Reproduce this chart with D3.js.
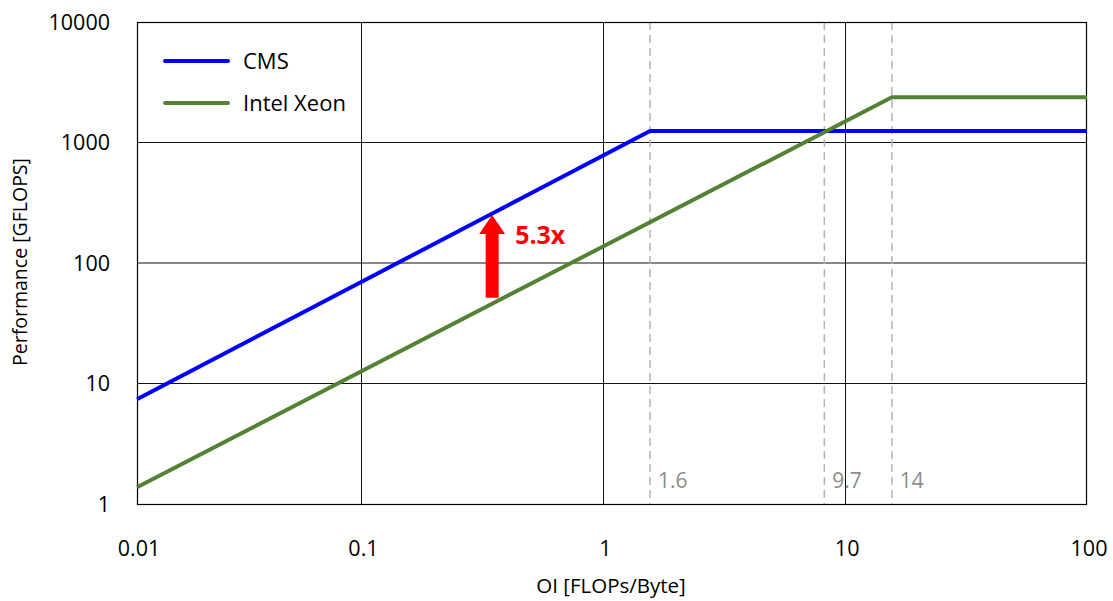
<!DOCTYPE html>
<html>
<head>
<meta charset="utf-8">
<script src="https://cdn.jsdelivr.net/npm/d3@7"></script>
<style>
  body { margin: 0; background: #fff; }
  svg { font-family: "Open Sans", sans-serif; }
</style>
</head>
<body>
<svg id="chart" width="1113" height="601"></svg>
<script>
// Axis ticks (the left edge of the plot sits slightly right of 0.01)
const xTickValues = [0.0118, 0.1, 1, 10, 100];
const xTickLabels = ['0.01', '0.1', '1', '10', '100'];
const yTickValues = [1, 10, 100, 1000, 10000];

// Roofline series: OI [FLOPs/Byte] -> GFLOPS
const cmsOI = [0.0118, 1.56, 100];
const cmsPerf = [7.4, 1245, 1245];
const xeonOI = [0.0118, 15.6, 100];
const xeonPerf = [1.376, 2372, 2372];

// Ridge points (dashed markers)
const ridgeOI = [1.56, 8.2, 15.6];
const ridgeLabels = ['1.6', '9.7', '14'];

// Speed-up arrow
const arrowOI = 0.347;
const arrowFrom = 51.5;
const arrowTo = 250;
const arrowLabel = '5.3x';

const series = [
  { name: 'CMS', oi: cmsOI, perf: cmsPerf, color: '#0000FF' },
  { name: 'Intel Xeon', oi: xeonOI, perf: xeonPerf, color: '#548235' }
];

const svg = d3.select('#chart');
const margin = { top: 22, right: 26, bottom: 97, left: 137 };
const width = +svg.attr('width'), height = +svg.attr('height');

let xScale = d3.scaleLog()
  .domain([xTickValues[0], xTickValues[xTickValues.length - 1]])
  .range([margin.left, width - margin.right]);

let yScale = d3.scaleLog()
  .domain([yTickValues[0], yTickValues[yTickValues.length - 1]])
  .range([height - margin.bottom, margin.top]);

const plotTop = margin.top, plotBottom = height - margin.bottom;

// Grid lines
svg.append('g')
  .selectAll('line')
  .data(xTickValues.slice(1, -1))
  .enter()
  .append('line')
  .attr('x1', d => Math.round(xScale(d)) + 0.5)
  .attr('x2', d => Math.round(xScale(d)) + 0.5)
  .attr('y1', plotTop)
  .attr('y2', plotBottom)
  .attr('stroke', '#111')
  .attr('stroke-width', 1);

svg.append('g')
  .selectAll('line')
  .data(yTickValues.slice(1, -1))
  .enter()
  .append('line')
  .attr('x1', margin.left)
  .attr('x2', width - margin.right)
  .attr('y1', d => yScale(d))
  .attr('y2', d => yScale(d))
  .attr('stroke', '#111')
  .attr('stroke-width', 1);

// Ridge dashed lines + labels
svg.append('g')
  .selectAll('line')
  .data(ridgeOI)
  .enter()
  .append('line')
  .attr('x1', d => xScale(d))
  .attr('x2', d => xScale(d))
  .attr('y1', plotTop)
  .attr('y2', plotBottom)
  .attr('stroke', '#b4b4b4')
  .attr('stroke-width', 1.5)
  .attr('stroke-dasharray', '8,5');

svg.append('g')
  .selectAll('text')
  .data(ridgeOI)
  .enter()
  .append('text')
  .attr('x', d => xScale(d) + 8)
  .attr('y', plotBottom - 16)
  .attr('fill', '#8c8c8c')
  .attr('font-size', 21)
  .text((d, i) => ridgeLabels[i]);

// Plot border
svg.append('rect')
  .attr('x', margin.left + 0.5)
  .attr('y', plotTop + 0.5)
  .attr('width', width - margin.left - margin.right - 1)
  .attr('height', plotBottom - plotTop)
  .attr('fill', 'none')
  .attr('stroke', '#000')
  .attr('stroke-width', 1.2);

// Series lines
const line = d3.line()
  .x(d => xScale(d[0]))
  .y(d => yScale(d[1]));

svg.append('g')
  .selectAll('path')
  .data(series)
  .enter()
  .append('path')
  .attr('d', s => line(s.oi.map((v, i) => [v, s.perf[i]])))
  .attr('fill', 'none')
  .attr('stroke', s => s.color)
  .attr('stroke-width', 4)
  .attr('stroke-linejoin', 'round');

// Arrow
const ax = xScale(arrowOI), ay0 = yScale(arrowFrom), ay1 = yScale(arrowTo);
const shaftHalf = 6.5, headHalf = 13, headLen = 19;
svg.append('path')
  .attr('d', d3.line()([
    [ax - shaftHalf, ay0], [ax - shaftHalf, ay1 + headLen], [ax - headHalf, ay1 + headLen],
    [ax, ay1], [ax + headHalf, ay1 + headLen], [ax + shaftHalf, ay1 + headLen], [ax + shaftHalf, ay0]
  ]) + 'Z')
  .attr('fill', '#FF0000');

svg.append('text')
  .attr('x', ax + 23)
  .attr('y', ay1 + 29)
  .attr('fill', '#FF0000')
  .attr('font-size', 25)
  .attr('font-weight', 'bold')
  .text(arrowLabel);

// Tick labels
svg.append('g')
  .selectAll('text')
  .data(xTickValues)
  .enter()
  .append('text')
  .attr('x', d => xScale(d) + 2)
  .attr('y', plotBottom + 52)
  .attr('text-anchor', 'middle')
  .attr('font-size', 21.5)
  .attr('fill', '#000')
  .text((d, i) => xTickLabels[i]);

svg.append('g')
  .selectAll('text')
  .data(yTickValues)
  .enter()
  .append('text')
  .attr('x', margin.left - 27)
  .attr('y', d => yScale(d))
  .attr('dy', '0.36em')
  .attr('text-anchor', 'end')
  .attr('font-size', 21.5)
  .attr('fill', '#000')
  .text(d => d);

// Axis titles
svg.append('text')
  .attr('x', 611)
  .attr('y', height - 8)
  .attr('text-anchor', 'middle')
  .attr('font-size', 20.5)
  .text('OI [FLOPs/Byte]');

svg.append('text')
  .attr('transform', `translate(27, 262) rotate(-90)`)
  .attr('text-anchor', 'middle')
  .attr('font-size', 19.5)
  .text('Performance [GFLOPS]');

// Legend
const legend = svg.append('g')
  .selectAll('g')
  .data(series)
  .enter()
  .append('g')
  .attr('transform', (d, i) => `translate(165, ${61 + i * 42})`);

legend.append('line')
  .attr('x1', 0)
  .attr('x2', 63)
  .attr('stroke', d => d.color)
  .attr('stroke-width', 4)
  .attr('stroke-linecap', 'round');

legend.append('text')
  .attr('x', 78)
  .attr('dy', '0.36em')
  .attr('font-size', 22)
  .text(d => d.name);
</script>
</body>
</html>
